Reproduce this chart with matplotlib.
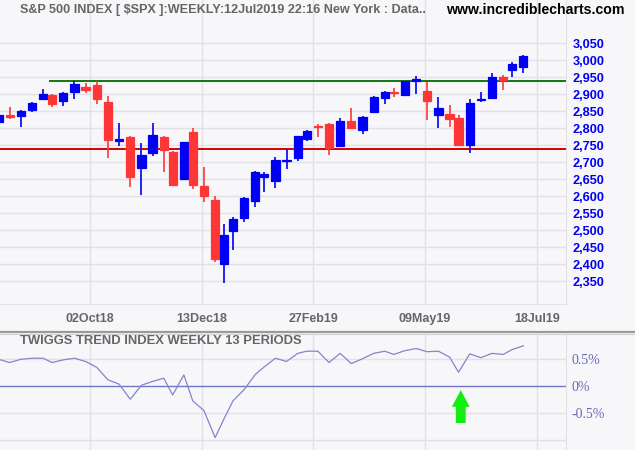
import numpy as np
import matplotlib
matplotlib.use('Agg')
import matplotlib.pyplot as plt
from matplotlib.patches import FancyArrow
from matplotlib.lines import Line2D

# ---------------- data ----------------
week_dates = ['2018-08-03', '2018-08-10', '2018-08-17', '2018-08-24', '2018-08-31',
              '2018-09-07', '2018-09-14', '2018-09-21', '2018-09-28', '2018-10-05',
              '2018-10-12', '2018-10-19', '2018-10-26', '2018-11-02', '2018-11-09',
              '2018-11-16', '2018-11-23', '2018-11-30', '2018-12-07', '2018-12-14',
              '2018-12-21', '2018-12-28', '2019-01-04', '2019-01-11', '2019-01-18',
              '2019-01-25', '2019-02-01', '2019-02-08', '2019-02-15', '2019-02-22',
              '2019-03-01', '2019-03-08', '2019-03-15', '2019-03-22', '2019-03-29',
              '2019-04-05', '2019-04-12', '2019-04-18', '2019-04-26', '2019-05-03',
              '2019-05-10', '2019-05-17', '2019-05-24', '2019-05-31', '2019-06-07',
              '2019-06-14', '2019-06-21', '2019-06-28', '2019-07-05', '2019-07-12']
opens = [2819, 2838, 2837, 2855, 2885, 2898, 2881, 2906, 2922, 2926,
         2877, 2763, 2774, 2684, 2728, 2774, 2730, 2652, 2789, 2630,
         2590, 2402, 2499, 2535, 2585, 2657, 2646, 2705, 2714, 2770,
         2806, 2813, 2749, 2822, 2796, 2849, 2890, 2908, 2899, 2938,
         2910, 2840, 2842, 2830, 2752, 2884, 2890, 2952, 2971, 2981]
highs = [2848, 2862, 2854, 2876, 2916, 2900, 2907, 2940, 2932, 2940,
         2896, 2816, 2776, 2756, 2816, 2776, 2733, 2760, 2801, 2686,
         2601, 2520, 2538, 2597, 2675, 2672, 2716, 2739, 2776, 2795,
         2813, 2816, 2830, 2860, 2836, 2894, 2910, 2918, 2940, 2954,
         2937, 2891, 2868, 2840, 2885, 2908, 2963, 2956, 2995, 3017]
lows = [2795, 2827, 2803, 2848, 2884, 2864, 2867, 2887, 2905, 2871,
        2714, 2749, 2628, 2604, 2719, 2672, 2630, 2649, 2621, 2584,
        2408, 2346, 2443, 2525, 2569, 2614, 2625, 2681, 2705, 2763,
        2775, 2722, 2748, 2800, 2783, 2848, 2872, 2893, 2896, 2901,
        2825, 2801, 2803, 2750, 2728, 2876, 2886, 2913, 2952, 2963]
closes = [2840, 2833, 2851, 2874, 2901, 2872, 2905, 2930, 2914, 2886,
          2767, 2768, 2658, 2721, 2780, 2737, 2634, 2760, 2634, 2600,
          2416, 2486, 2532, 2596, 2671, 2665, 2707, 2708, 2776, 2793,
          2803, 2743, 2822, 2801, 2834, 2893, 2907, 2905, 2940, 2946,
          2881, 2860, 2826, 2752, 2873, 2887, 2950, 2942, 2989, 3013]
trend = [0.50, 0.44, 0.50, 0.52, 0.52, 0.44, 0.49, 0.52, 0.46, 0.35,
         0.12, 0.04, -0.24, 0.02, 0.09, 0.15, -0.16, 0.21, -0.27, -0.45,
         -0.95, -0.60, -0.27, -0.06, 0.22, 0.36, 0.52, 0.46, 0.61, 0.65,
         0.65, 0.44, 0.61, 0.42, 0.51, 0.61, 0.65, 0.59, 0.66, 0.70,
         0.64, 0.65, 0.54, 0.26, 0.60, 0.53, 0.61, 0.59, 0.68, 0.75]

price_ticks = list(range(2350, 3051, 50))
date_ticks = ['2018-10-02', '2018-12-13', '2019-02-27', '2019-05-09', '2019-07-18']
date_tick_labels = ['02Oct18', '13Dec18', '27Feb19', '09May19', '18Jul19']
trend_ticks = [0.5, 0.0, -0.5]
trend_tick_labels = ['0.5%', '0%', '-0.5%']
trend_grid = [0.5, -0.5, -1.0]
support_level = 2740
resistance_level = 2938
resistance_start = '2018-09-07'
signal_date = '2019-05-31'
market_holidays = ['2018-09-03', '2018-11-22', '2018-12-05', '2018-12-25', '2019-01-01',
                   '2019-01-21', '2019-02-18', '2019-04-19', '2019-05-27', '2019-07-04']

# ---------------- positions (trading-day axis) ----------------
start = week_dates[0]
last = np.datetime64(week_dates[-1])


def tpos(d):
    d64 = np.datetime64(d)
    if d64 <= last:
        return float(np.busday_count(start, d64, holidays=market_holidays))
    return float(np.busday_count(start, last, holidays=market_holidays)) + (d64 - last).astype(int)


x = np.array([tpos(d) for d in week_dates])
o = np.array(opens, float)
h = np.array(highs, float)
l = np.array(lows, float)
c = np.array(closes, float)

BG = '#f7f7fa'
GRID = '#e2e2e6'
BLUE = '#0000f5'
RED = '#ff3636'

W, H = 635, 450
fig = plt.figure(figsize=(W / 100, H / 100), dpi=100, facecolor=BG)

# pixel scale: first candle centre at -1.5px, last at 523.3px, plot right edge at 566px
k = (523.3 + 1.5) / x[-1]
xl = (1.5 / k, (566 + 1.5) / k)

ax1 = fig.add_axes([0, (H - 304) / H, 566 / W, 304 / H], facecolor=BG)
ax2 = fig.add_axes([0, 0, 566 / W, 116 / H], facecolor=BG)

# price panel
ax1.set_xlim(*xl)
ax1.set_ylim(3050 - (304 - 43.3) * 50 / 17, 3050 + 43.3 * 50 / 17)
for t in price_ticks:
    ax1.axhline(t, color=GRID, lw=1.0, zorder=0)
for d in date_ticks:
    ax1.axvline(tpos(d), color=GRID, lw=1.0, zorder=0)

ax1.axhline(support_level, color='#d40000', lw=1.4, zorder=1)
ax1.hlines(resistance_level, tpos(resistance_start) - 1.5, xl[1], color='#117711', lw=1.4, zorder=1)

up = c >= o
cols = np.where(up, BLUE, RED)
ax1.vlines(x, l, h, colors=cols, lw=1.2, zorder=2)
body_lo = np.minimum(o, c)
body_h = np.abs(c - o)
ax1.bar(x, body_h, bottom=body_lo, width=3.7, color=cols, edgecolor=cols, lw=0.9, zorder=3)

ax1.yaxis.tick_right()
ax1.set_yticks(price_ticks)
ax1.set_yticklabels([f'{t:,}' for t in price_ticks], color=BLUE,
                    fontfamily='Liberation Sans', fontweight='bold', fontsize=9.2)
ax1.tick_params(axis='y', length=0, pad=4.5)
ax1.set_xticks([tpos(d) for d in date_ticks])
ax1.set_xticklabels(date_tick_labels, color='#666666', fontfamily='Liberation Sans',
                    fontweight='bold', fontsize=9)
ax1.tick_params(axis='x', length=0, pad=6.5)
for s in ['top', 'left']:
    ax1.spines[s].set_visible(False)
for s in ['right', 'bottom']:
    ax1.spines[s].set_color(GRID)

# trend panel
ax2.set_xlim(*xl)
ax2.set_ylim(-(450 - 386.3) / 54, (386.3 - 334) / 54)
for t in trend_grid:
    ax2.axhline(t, color=GRID, lw=1.0, zorder=0)
for d in date_ticks:
    ax2.axvline(tpos(d), color=GRID, lw=1.0, zorder=0)
ax2.axhline(0, color='#7474c4', lw=1.0, zorder=1)
ax2.plot(x, trend, color='#8484cc', lw=0.9, zorder=2)

sx = tpos(signal_date) + 1
ax2.add_patch(FancyArrow(sx, -0.68, 0, 0.61, width=4.4, head_width=8.0, head_length=0.31,
                         length_includes_head=True, color='#11ee11', lw=0, zorder=4))

ax2.yaxis.tick_right()
ax2.set_yticks(trend_ticks)
ax2.set_yticklabels(trend_tick_labels, color='#6a6ab4', fontfamily='Liberation Serif', fontsize=10)
ax2.tick_params(axis='y', length=0, pad=4)
ax2.set_xticks([])
for s in ['top', 'left', 'bottom']:
    ax2.spines[s].set_visible(False)
ax2.spines['right'].set_color(GRID)

# separator between panels
fig.add_artist(Line2D([0, 1], [1 - 331.5 / H, 1 - 331.5 / H], color='#9a9a9a', lw=1.6))
fig.add_artist(Line2D([0, 1], [1 - 333.5 / H, 1 - 333.5 / H], color='#d0d0d0', lw=0.8))

# titles
fig.text(20 / W, 1 - 10 / H, 'S&P 500 INDEX [ $SPX ]:WEEKLY:12Jul2019 22:16 New York : Data..',
         color='#666666', fontfamily='Liberation Sans', fontweight='bold', fontsize=9.05,
         va='center', ha='left')
fig.text(625 / W, 1 - 10 / H, 'www.incrediblecharts.com', color='black',
         fontfamily='Liberation Sans', fontweight='bold', fontsize=10.2, va='center', ha='right')
fig.text(20 / W, 1 - 341 / H, 'TWIGGS TREND INDEX WEEKLY 13 PERIODS', color='#666666',
         fontfamily='Liberation Sans', fontweight='bold', fontsize=9.4, va='center', ha='left')

fig.savefig('out.png', dpi=100, facecolor=BG)
